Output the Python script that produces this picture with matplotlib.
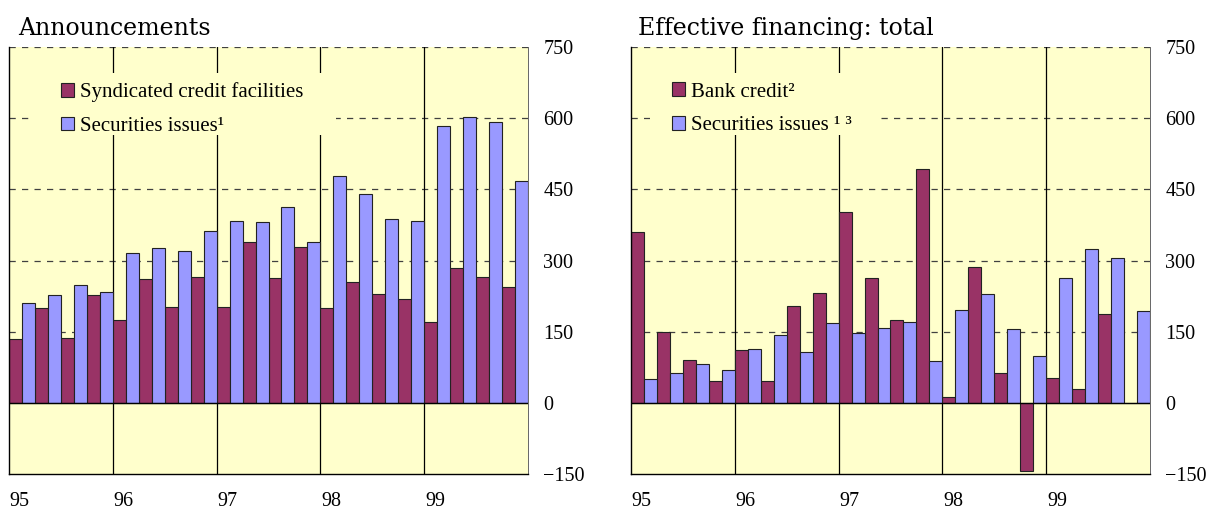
#!/usr/bin/env python
'''
Announcements vs effective financing, quarterly 1995-1999
'''
import numpy as np
import matplotlib
matplotlib.use('Agg')
import matplotlib.pyplot as plt
from matplotlib.patches import Patch, Rectangle

# Data (USD bn)
years = ['95', '96', '97', '98', '99']

synd_credit = [135, 200, 136, 227, 174, 261, 201, 266, 203, 340, 264, 328,
               199, 254, 230, 219, 170, 284, 266, 245]
sec_announced = [211, 228, 249, 234, 316, 326, 320, 363, 384, 381, 412, 338,
                 479, 440, 388, 384, 584, 603, 591, 467]

bank_credit = [360, 150, 91, 46, 111, 45, 204, 232, 403, 263, 174, 493,
               13, 286, 63, -143, 53, 30, 188, 0]
sec_effective = [51, 63, 82, 69, 114, 142, 107, 169, 148, 158, 171, 88,
                 196, 230, 156, 98, 264, 324, 305, 194]

# Constants
MAROON = '#993366'
LAVENDER = '#9999FF'
BG = '#FFFFCC'
SERIF = ['Liberation Serif', 'DejaVu Serif']
TICKFONT = 14.5
LEGFONT = 15
TITLEFONT = 17

FIG_W, FIG_H = 1207, 513
AX_TOP, AX_BOT, AX_W = 47, 474, 519   # px, measured from the top of the image
AX_H = AX_BOT - AX_TOP


def draw_panel(ax, red, blue, labels, box, leg_x):
    n = len(red)
    x = np.arange(n)
    ax.set_facecolor(BG)
    ax.set_xlim(0, n)
    ax.set_ylim(-150, 750)

    # dashed horizontal grid
    for yv in [150, 300, 450, 600, 750]:
        ax.axhline(yv, color='#404040', lw=0.9, ls=(0, (5, 5)), zorder=1)
    # year separators
    for xv in range(4, n, 4):
        ax.axvline(xv, color='black', lw=0.9, zorder=1)

    ax.bar(x + 0.25, red, width=0.5, color=MAROON, edgecolor='#222222',
           linewidth=0.8, zorder=2)
    ax.bar(x + 0.75, blue, width=0.5, color=LAVENDER, edgecolor='#222222',
           linewidth=0.8, zorder=2)
    ax.axhline(0, color='black', lw=1.0, zorder=3)

    ax.spines['top'].set_visible(False)
    ax.spines['right'].set_color('#666666')
    ax.spines['right'].set_linewidth(0.7)
    for s in ['left', 'bottom']:
        ax.spines[s].set_linewidth(1.0)

    ax.set_xticks([])
    ax.yaxis.tick_right()
    ax.set_yticks([-150, 0, 150, 300, 450, 600, 750])
    ax.tick_params(axis='y', length=0, pad=11, labelsize=TICKFONT)
    for t in ax.get_yticklabels():
        t.set_family(SERIF)

    # year labels below the axis, left aligned at year start
    trans = ax.get_xaxis_transform()
    for i, yr in enumerate(years):
        ax.text(i * 4 + 0.03, -28 / AX_H, yr, transform=trans, ha='left',
                va='center', fontsize=TICKFONT, family=SERIF)

    # yellow box behind the legend hides grid lines
    x0, x1, y0, y1 = box
    ax.add_patch(Rectangle((x0, y0), x1 - x0, y1 - y0, transform=ax.transAxes,
                           facecolor=BG, edgecolor='none', zorder=4))

    handles = [Patch(facecolor=MAROON, edgecolor='#222222', lw=0.8),
               Patch(facecolor=LAVENDER, edgecolor='#222222', lw=0.8)]
    leg = ax.legend(handles, labels, loc='upper left',
                    bbox_to_anchor=(leg_x, (AX_BOT - 82.5) / AX_H),
                    frameon=False, handlelength=0.62, handleheight=0.62,
                    handletextpad=0.3, labelspacing=0.7, borderpad=0,
                    borderaxespad=0,
                    prop={'family': SERIF, 'size': LEGFONT})
    leg.set_zorder(5)


def main():
    fig = plt.figure(figsize=(FIG_W / 100, FIG_H / 100), dpi=100)

    bot = (FIG_H - AX_BOT) / FIG_H
    ax1 = fig.add_axes([9 / FIG_W, bot, AX_W / FIG_W, AX_H / FIG_H])
    ax2 = fig.add_axes([631 / FIG_W, bot, AX_W / FIG_W, AX_H / FIG_H])

    draw_panel(ax1, synd_credit, sec_announced,
               ['Syndicated credit facilities', 'Securities issues\u00b9'],
               (0.040, 0.630, 0.794, 0.939), 0.100)
    draw_panel(ax2, bank_credit, sec_effective,
               ['Bank credit\u00b2', 'Securities issues \u00b9 \u00b3'],
               (0.037, 0.480, 0.794, 0.939), 0.079)

    fig.text(18 / FIG_W, 1 - 35 / FIG_H, 'Announcements', fontsize=TITLEFONT,
             family='DejaVu Serif', va='baseline', ha='left')
    fig.text(638 / FIG_W, 1 - 35 / FIG_H, 'Effective financing: total',
             fontsize=TITLEFONT, family='DejaVu Serif', va='baseline', ha='left')

    plt.savefig('out.png', dpi=100)
    plt.close('all')


if __name__ == "__main__":
    main()
